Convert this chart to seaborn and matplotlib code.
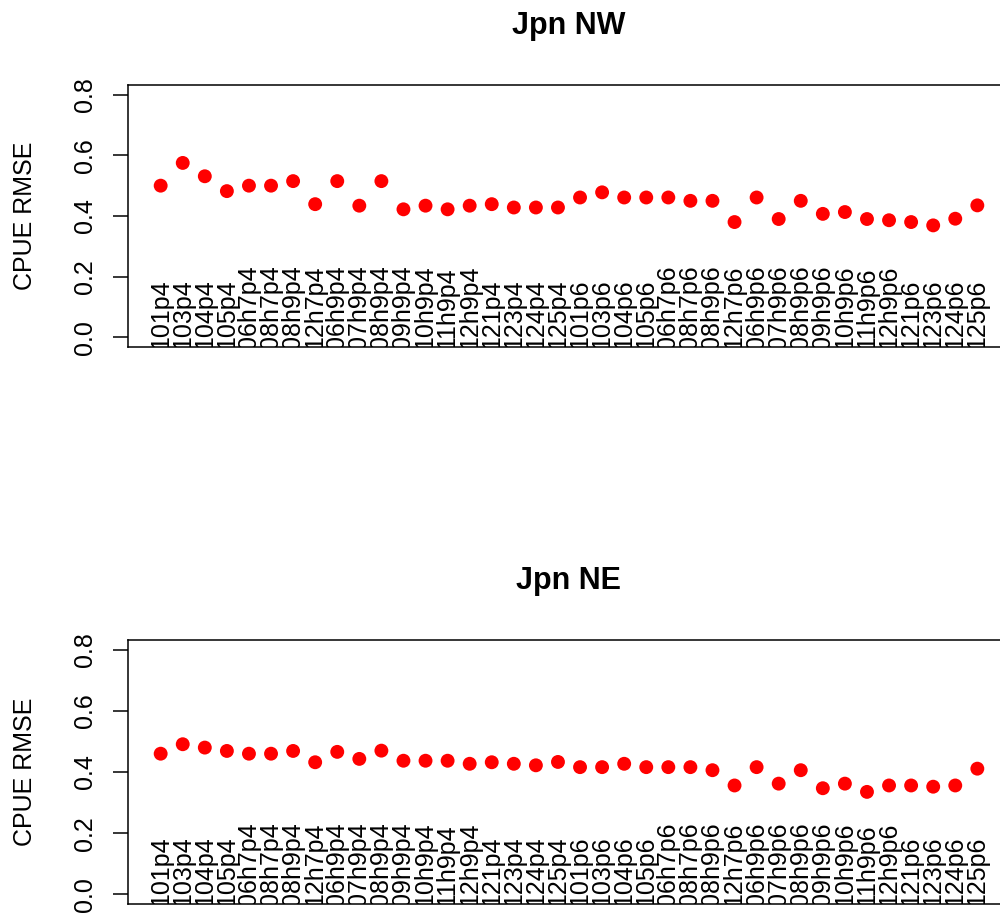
import matplotlib
matplotlib.use("Agg")
import matplotlib.pyplot as plt
import numpy as np
import pandas as pd
import seaborn as sns

# Model configurations (x categories)
configs = [
    "101p4", "103p4", "104p4", "105p4", "06h7p4", "08h7p4", "08h9p4", "12h7p4",
    "06h9p4", "07h9p4", "08h9p4", "09h9p4", "10h9p4", "11h9p4", "12h9p4",
    "121p4", "123p4", "124p4", "125p4",
    "101p6", "103p6", "104p6", "105p6", "06h7p6", "08h7p6", "08h9p6", "12h7p6",
    "06h9p6", "07h9p6", "08h9p6", "09h9p6", "10h9p6", "11h9p6", "12h9p6",
    "121p6", "123p6", "124p6", "125p6",
]

# CPUE RMSE per configuration, by region
rmse_nw = [
    0.500, 0.575, 0.531, 0.482, 0.500, 0.500, 0.515, 0.439, 0.515, 0.434,
    0.515, 0.422, 0.434, 0.422, 0.434, 0.439, 0.428, 0.428, 0.428,
    0.461, 0.478, 0.461, 0.461, 0.461, 0.450, 0.450, 0.380, 0.461, 0.390,
    0.450, 0.407, 0.413, 0.390, 0.386, 0.380, 0.369, 0.391, 0.435,
]
rmse_ne = [
    0.460, 0.491, 0.480, 0.469, 0.460, 0.460, 0.469, 0.432, 0.466, 0.443,
    0.470, 0.437, 0.437, 0.437, 0.427, 0.432, 0.427, 0.422, 0.433,
    0.416, 0.416, 0.427, 0.416, 0.416, 0.416, 0.406, 0.356, 0.416, 0.362,
    0.406, 0.347, 0.362, 0.335, 0.356, 0.356, 0.352, 0.356, 0.411,
]

regions = ["Jpn NW", "Jpn NE"]
y_ticks = [0.0, 0.2, 0.4, 0.6, 0.8]

sns.set_style("white")
plt.rcParams["font.family"] = ["Liberation Sans", "DejaVu Sans"]
plt.rcParams["text.color"] = "black"
plt.rcParams["axes.labelcolor"] = "black"
plt.rcParams["ytick.color"] = "black"
plt.rcParams["xtick.color"] = "black"

fig = plt.figure(figsize=(10, 9.15), dpi=100)
fig.patch.set_facecolor("white")

# [left, bottom, width, height] of each panel
panel_rects = [
    [0.128, 0.6208, 0.882, 0.2863],
    [0.128, 0.0120, 0.882, 0.2885],
]

n = len(configs)
xpos = np.arange(1, n + 1)

for rect, title, vals in zip(panel_rects, regions, [rmse_nw, rmse_ne]):
    ax = fig.add_axes(rect)
    df = pd.DataFrame({"x": xpos, "rmse": vals})
    sns.scatterplot(data=df, x="x", y="rmse", ax=ax, color="#FF0000",
                    s=100, edgecolor="none", linewidth=0, legend=False)

    ax.set_xlim(1 - 0.04 * (n - 1), n + 0.04 * (n - 1))
    ax.set_ylim(-0.032, 0.832)
    ax.set_xticks([])
    ax.set_yticks(y_ticks)
    ax.set_yticklabels([f"{t:.1f}" for t in y_ticks], rotation=90,
                       va="center", fontsize=18, color="black")
    ax.tick_params(axis="y", direction="out", length=11, width=1.1,
                   pad=11, color="black", left=True)
    for sp in ax.spines.values():
        sp.set_visible(True)
        sp.set_color("black")
        sp.set_linewidth(1.1)

    ax.set_xlabel("")
    ax.set_ylabel("CPUE RMSE", fontsize=18, labelpad=26, color="black")
    ax.set_title(title, fontsize=22, fontweight="bold", pad=37, color="black")

    # configuration names written vertically inside the plot region
    for xi, lab in zip(xpos, configs):
        ax.text(xi, -0.040, lab, rotation=90, ha="center", va="bottom",
                fontsize=18, color="black", clip_on=True)

fig.savefig("out.png", dpi=100, facecolor="white")
